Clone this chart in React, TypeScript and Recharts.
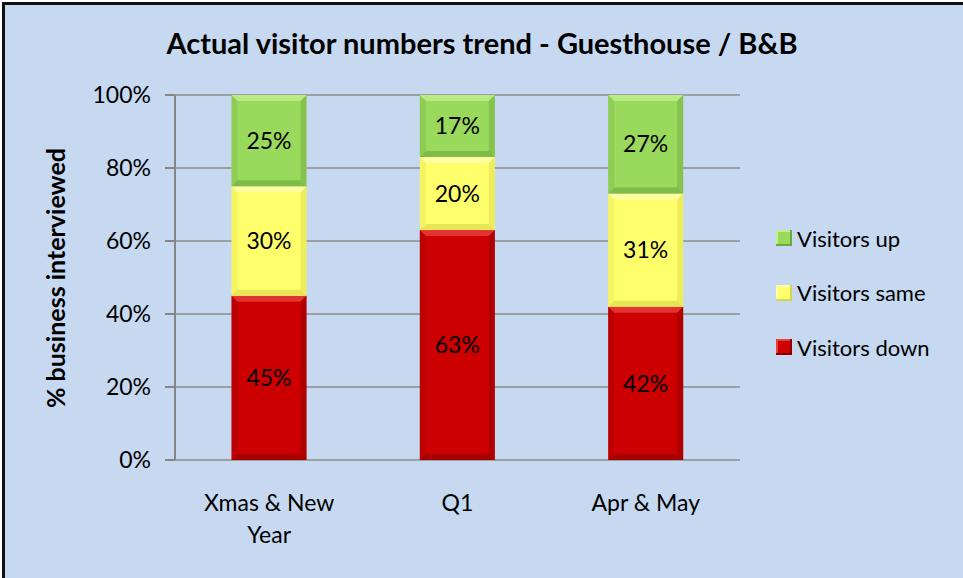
import React from "react";
import { BarChart, Bar, XAxis, YAxis, CartesianGrid, LabelList } from "recharts";

// periods on the x axis
const periods = ["Xmas & New Year", "Q1", "Apr & May"];

// % of businesses per answer
const visitorsDown = [45, 63, 42];
const visitorsSame = [30, 20, 31];
const visitorsUp = [25, 17, 27];

const yTicks = [0, 20, 40, 60, 80, 100];
const boundaryTicks = [0, 1, 2, 3];

const FONT = "Lato, 'Open Sans', sans-serif";

const series = [
  { key: "down", name: "Visitors down", fill: "#cc0000", light: "#e8403a", dark: "#8e0000" },
  { key: "same", name: "Visitors same", fill: "#ffff6b", light: "#ffffb0", dark: "#d6d64a" },
  { key: "up", name: "Visitors up", fill: "#99d95b", light: "#c0ef8c", dark: "#6fa83e" },
];

const data = periods.map((p, i) => ({
  period: p,
  down: visitorsDown[i],
  same: visitorsSame[i],
  up: visitorsUp[i],
}));

// bar segment with a soft bevel like the spreadsheet original
const bevelShape = (light: string, dark: string) => (props: any) => {
  const { x, y, width, height, fill } = props;
  if (!height || height <= 0) return <g />;
  const b = 6;
  return (
    <g>
      <rect x={x} y={y} width={width} height={height} fill={fill} />
      <polygon
        points={`${x},${y} ${x + width},${y} ${x + width - b},${y + b} ${x + b},${y + b}`}
        fill={light}
        opacity={0.8}
      />
      <polygon
        points={`${x},${y + height} ${x + width},${y + height} ${x + width - b},${y + height - b} ${x + b},${y + height - b}`}
        fill={dark}
        opacity={0.6}
      />
      <polygon
        points={`${x + width},${y} ${x + width},${y + height} ${x + width - b},${y + height - b} ${x + width - b},${y + b}`}
        fill={dark}
        opacity={0.45}
      />
      <polygon
        points={`${x},${y} ${x},${y + height} ${x + b},${y + height - b} ${x + b},${y + b}`}
        fill={dark}
        opacity={0.25}
      />
    </g>
  );
};

// simple word wrap, about 12 characters a line
const wrap = (s: string, max = 12) => {
  const lines: string[] = [];
  let cur = "";
  s.split(" ").forEach((w) => {
    const next = cur ? cur + " " + w : w;
    if (next.length > max && cur) {
      lines.push(cur);
      cur = w;
    } else {
      cur = next;
    }
  });
  if (cur) lines.push(cur);
  return lines;
};

const PeriodTick = (props: any) => {
  const { x, y, payload } = props;
  const lines = wrap(payload.value);
  return (
    <text x={x} y={y + 43} textAnchor="middle" fontSize={23} fontFamily={FONT} fill="#000">
      {lines.map((l, i) => (
        <tspan key={i} x={x} dy={i === 0 ? 0 : 32}>
          {l}
        </tspan>
      ))}
    </text>
  );
};

export default function App() {
  return (
    <div style={{ position: "absolute", left: 0, top: 0, width: 963, height: 578, background: "#fff", overflow: "hidden", fontFamily: FONT }}>
      <div
        style={{
          position: "absolute",
          left: 2,
          top: 2,
          width: 980,
          height: 600,
          background: "#c6d9f0",
          borderLeft: "3px solid #111",
          borderTop: "3px solid #111",
        }}
      />
      <div
        style={{
          position: "absolute",
          left: 0,
          top: 25,
          width: 964,
          textAlign: "center",
          fontSize: 29,
          fontWeight: 700,
          color: "#000",
        }}
      >
        Actual visitor numbers trend - Guesthouse / B&amp;B
      </div>
      <div
        style={{
          position: "absolute",
          left: 55,
          top: 278,
          transform: "translate(-50%, -50%) rotate(-90deg)",
          whiteSpace: "nowrap",
          fontSize: 25,
          fontWeight: 700,
          color: "#000",
        }}
      >
        % business interviewed
      </div>
      <div style={{ position: "absolute", left: 0, top: 0 }}>
        <BarChart
          width={963}
          height={578}
          data={data}
          margin={{ top: 95, right: 223, left: 0, bottom: 28 }}
          barCategoryGap="30%"
        >
          <CartesianGrid vertical={false} stroke="#8c8c8c" strokeWidth={1.5} />
          <XAxis
            xAxisId="b"
            type="number"
            domain={[0, 3]}
            ticks={boundaryTicks}
            height={0}
            tickSize={8}
            stroke="#868686"
            strokeWidth={2}
            tick={() => <g />}
          />
          <XAxis
            dataKey="period"
            height={90}
            tickLine={false}
            axisLine={false}
            interval={0}
            tick={<PeriodTick />}
          />
          <YAxis
            width={175}
            domain={[0, 100]}
            ticks={yTicks}
            tickFormatter={(v: number) => `${v}%`}
            tickSize={10}
            tickMargin={14}
            stroke="#868686"
            strokeWidth={2}
            tick={{ fill: "#000", fontSize: 23, fontFamily: FONT }}
          />
          {series.map((s) => (
            <Bar
              key={s.key}
              dataKey={s.key}
              name={s.name}
              stackId="a"
              fill={s.fill}
              shape={bevelShape(s.light, s.dark)}
              isAnimationActive={false}
            >
              <LabelList
                dataKey={s.key}
                position="center"
                formatter={(v: any) => `${v}%`}
                style={{ fontSize: 23, fontFamily: FONT, fill: "#000" }}
              />
            </Bar>
          ))}
        </BarChart>
      </div>
      <div style={{ position: "absolute", left: 776, top: 222 }}>
        {[...series].reverse().map((s) => (
          <div key={s.key} style={{ display: "flex", alignItems: "center", height: 32, marginBottom: 22.5 }}>
            <div
              style={{
                width: 16,
                height: 16,
                background: s.fill,
                boxShadow: `inset -2px -2px 0 ${s.dark}, inset 2px 2px 0 ${s.light}`,
                marginRight: 5,
              }}
            />
            <span style={{ fontSize: 22, color: "#000" }}>{s.name}</span>
          </div>
        ))}
      </div>
    </div>
  );
}
